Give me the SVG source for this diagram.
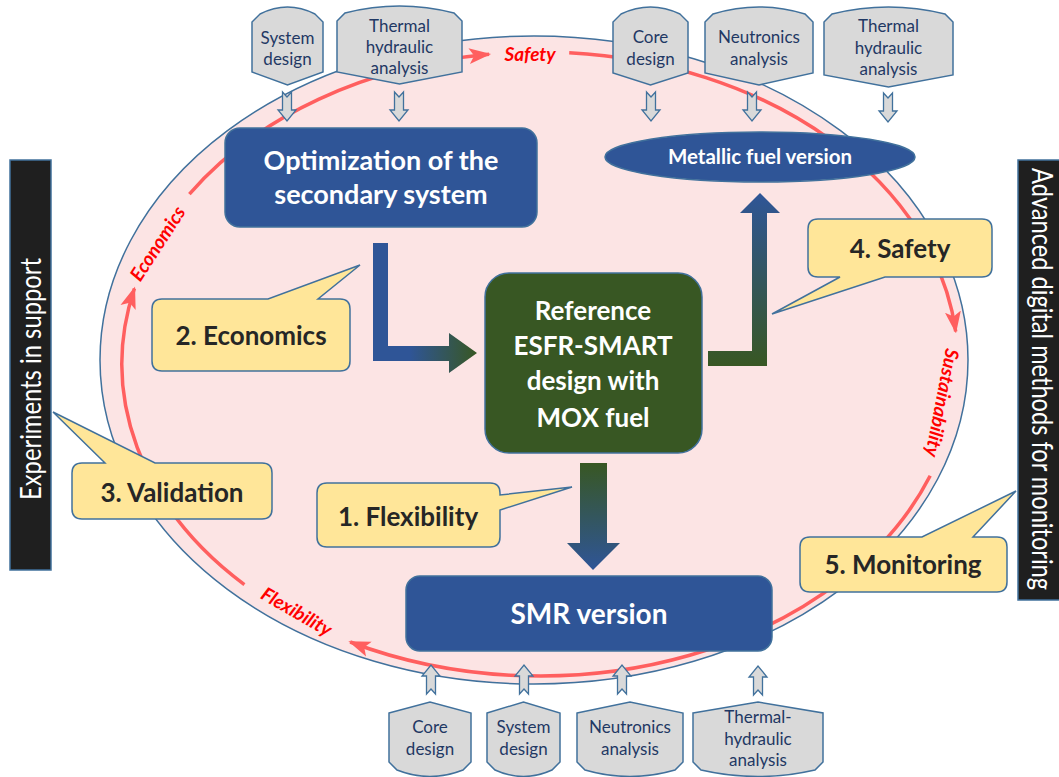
<svg xmlns="http://www.w3.org/2000/svg" width="1059" height="777" viewBox="0 0 1059 777">
<style>
.gray{fill:#d9d9d9;stroke:#41719c;stroke-width:1.5}
.gt{font-family:Lato,"Liberation Sans",sans-serif;font-size:17px;fill:#1f3864;text-anchor:middle}
.sa{fill:#d9d9d9;stroke:#41719c;stroke-width:1.3}
.call{fill:#ffe699;stroke:#41719c;stroke-width:1.5}
.ct{font-family:Lato,"Liberation Sans",sans-serif;font-size:26px;font-weight:bold;fill:#262626;text-anchor:middle}
.blue{fill:#2f5597;stroke:#41719c;stroke-width:1.5}
.wt{font-family:Lato,"Liberation Sans",sans-serif;font-weight:bold;fill:#ffffff;text-anchor:middle}
.red{fill:none;stroke:#ff5f5f;stroke-width:3.5;marker-end:url(#ah)}
.rl{font-family:Lato,"Liberation Sans",sans-serif;font-size:19px;font-weight:bold;font-style:italic;fill:#ff0000;text-anchor:middle;dominant-baseline:central}
.bar{fill:#1f1f1f;stroke:#41719c;stroke-width:1.5}
.bt{font-family:Lato,"Liberation Sans",sans-serif;font-size:28px;fill:#ffffff;text-anchor:middle}
</style>
<defs>
<marker id="ah" markerUnits="userSpaceOnUse" markerWidth="22" markerHeight="18" viewBox="0 0 22 18" refX="20" refY="9" orient="auto">
<path d="M0,1 L22,9 L0,17 L5,9 Z" fill="#ff5f5f"/>
</marker>
<linearGradient id="g1" gradientUnits="userSpaceOnUse" x1="373" y1="0" x2="477" y2="0">
<stop offset="0" stop-color="#2f5597"/><stop offset="0.35" stop-color="#2f5597"/><stop offset="1" stop-color="#385723"/>
</linearGradient>
<linearGradient id="g2" gradientUnits="userSpaceOnUse" x1="0" y1="366" x2="0" y2="193">
<stop offset="0" stop-color="#385723"/><stop offset="1" stop-color="#2f5597"/>
</linearGradient>
<linearGradient id="g3" gradientUnits="userSpaceOnUse" x1="0" y1="463" x2="0" y2="570">
<stop offset="0" stop-color="#385723"/><stop offset="1" stop-color="#2f5597"/>
</linearGradient>
</defs>

<g id="bar-left">
<rect class="bar" x="10" y="160" width="41" height="410"/>
<text class="bt" transform="translate(41,379) rotate(-90)" textLength="242" lengthAdjust="spacingAndGlyphs">Experiments in support</text>
</g>
<g id="bar-right">
<rect class="bar" x="1018" y="160" width="45" height="440"/>
<text class="bt" transform="translate(1032,379) rotate(90)" textLength="422" lengthAdjust="spacingAndGlyphs">Advanced digital methods for monitoring</text>
</g>

<g id="cycle">
<ellipse cx="534" cy="360" rx="434" ry="324" fill="#fce4e4" stroke="#41719c" stroke-width="1.5"/>
</g>

<g id="connectors">
<path class="red" d="M189.4,194.1 A418,312 0 0 1 489.1,54.3"/>
<path class="red" d="M569.2,52.7 A418,312 0 0 1 955.7,331.4"/>
<path class="red" d="M930.2,475.8 A418,312 0 0 1 350.2,642"/>
<path class="red" d="M244.4,584.6 A418,312 0 0 1 134.4,288.5"/>
<text class="rl" x="530" y="53">Safety</text>
<text class="rl" transform="translate(943,403) rotate(101)" font-size="20">Sustainability</text>
<text class="rl" transform="translate(297,611) rotate(30)">Flexibility</text>
<text class="rl" transform="translate(157,243) rotate(-57)">Economics</text>

<path fill="url(#g1)" d="M373,243 L388,243 L388,346 L449,346 L449,333 L477,353 L449,373 L449,361 L373,361 Z"/>
<path fill="url(#g2)" d="M708,351 L752,351 L752,213 L740,213 L760,193 L780,213 L767,213 L767,366 L708,366 Z"/>
<path fill="url(#g3)" d="M580,463 L607,463 L607,543 L620,543 L593,570 L567,543 L580,543 Z"/>

<path class="sa" d="M282.5,92 L287,97 L291.5,92 L291.5,110 L296,110 L287,121 L278,110 L282.5,110 Z"/>
<path class="sa" d="M394.5,92 L399,97 L403.5,92 L403.5,110 L408,110 L399,121 L390,110 L394.5,110 Z"/>
<path class="sa" d="M646.5,92 L651,97 L655.5,92 L655.5,110 L660,110 L651,121 L642,110 L646.5,110 Z"/>
<path class="sa" d="M747.5,92 L752,97 L756.5,92 L756.5,110 L761,110 L752,121 L743,110 L747.5,110 Z"/>
<path class="sa" d="M883.5,93 L888,98 L892.5,93 L892.5,111 L897,111 L888,122 L879,111 L883.5,111 Z"/>

<path class="sa" d="M426.5,694 L431,689 L435.5,694 L435.5,676 L440,676 L431,665 L422,676 L426.5,676 Z"/>
<path class="sa" d="M519.5,694 L524,689 L528.5,694 L528.5,676 L533,676 L524,665 L515,676 L519.5,676 Z"/>
<path class="sa" d="M617.5,694 L622,689 L626.5,694 L626.5,676 L631,676 L622,665 L613,676 L617.5,676 Z"/>
<path class="sa" d="M753.5,695 L758,690 L762.5,695 L762.5,677 L767,677 L758,666 L749,677 L753.5,677 Z"/>
</g>

<g id="n-economics">
<path class="call" d="M162,299 L268,299 L360,265 L318,299 L340,299 Q350,299 350,309 L350,361 Q350,371 340,371 L162,371 Q152,371 152,361 L152,309 Q152,299 162,299 Z"/>
<text class="ct" x="251" y="345">2. Economics</text>
</g>
<g id="n-validation">
<path class="call" d="M82,463 L105,463 L53,412 L155,463 L262,463 Q272,463 272,473 L272,509 Q272,519 262,519 L82,519 Q72,519 72,509 L72,473 Q72,463 82,463 Z"/>
<text class="ct" x="172" y="502">3. Validation</text>
</g>
<g id="n-flexibility">
<path class="call" d="M327,483 L490,483 Q500,483 500,493 L500,495 L572,487 L500,510 L500,537 Q500,547 490,547 L327,547 Q317,547 317,537 L317,493 Q317,483 327,483 Z"/>
<text class="ct" x="408" y="526">1. Flexibility</text>
</g>
<g id="n-safety">
<path class="call" d="M818,219 L982,219 Q992,219 992,229 L992,267 Q992,277 982,277 L885,277 L772,314 L840,277 L818,277 Q808,277 808,267 L808,229 Q808,219 818,219 Z"/>
<text class="ct" x="900" y="258">4. Safety</text>
</g>
<g id="n-monitoring">
<path class="call" d="M810,537 L922,537 L1016,491 L973,537 L997,537 Q1007,537 1007,547 L1007,582 Q1007,592 997,592 L810,592 Q800,592 800,582 L800,547 Q800,537 810,537 Z"/>
<text class="ct" x="903" y="574">5. Monitoring</text>
</g>

<g id="n-optimization">
<rect class="blue" x="225" y="128" width="312" height="99" rx="15"/>
<text class="wt" x="381" y="170" font-size="27">Optimization of the</text>
<text class="wt" x="381" y="204" font-size="27">secondary system</text>
</g>
<g id="n-reference">
<rect x="485" y="273" width="217" height="180" rx="24" fill="#385723" stroke="#41719c" stroke-width="1.5"/>
<text class="wt" x="593" y="320" font-size="26">Reference</text>
<text class="wt" x="593" y="355" font-size="26">ESFR-SMART</text>
<text class="wt" x="593" y="390" font-size="26">design with</text>
<text class="wt" x="593" y="427" font-size="26">MOX fuel</text>
</g>
<g id="n-metallic">
<ellipse class="blue" cx="760" cy="157" rx="155" ry="25"/>
<text class="wt" x="760" y="164" font-size="20.5">Metallic fuel version</text>
</g>
<g id="n-smr">
<rect class="blue" x="406" y="576" width="366" height="75" rx="14"/>
<text class="wt" x="589" y="624" font-size="28">SMR version</text>
</g>

<g id="in-system-top">
<path class="gray" d="M252,72 L252,22 L260,14 Q287.5,0 315,14 L323,22 L323,72 L287.5,85 Z"/>
<text class="gt" x="287.5" y="44">System</text><text class="gt" x="287.5" y="65">design</text>
</g>
<g id="in-thermal-top-left">
<path class="gray" d="M337,72 L337,21 L345,13 Q399.5,-1 454,13 L462,21 L462,72 L399.5,84 Z"/>
<text class="gt" x="399.5" y="32">Thermal</text><text class="gt" x="399.5" y="53">hydraulic</text><text class="gt" x="399.5" y="74">analysis</text>
</g>
<g id="in-core-top">
<path class="gray" d="M613,73 L613,22 L621,14 Q650.5,0 680,14 L688,22 L688,73 L650.5,85 Z"/>
<text class="gt" x="650.5" y="43">Core</text><text class="gt" x="650.5" y="65">design</text>
</g>
<g id="in-neutronics-top">
<path class="gray" d="M705,73 L705,22 L713,14 Q759,0 805,14 L813,22 L813,73 L759,85 Z"/>
<text class="gt" x="759" y="43">Neutronics</text><text class="gt" x="759" y="65">analysis</text>
</g>
<g id="in-thermal-top-right">
<path class="gray" d="M824,75 L824,22 L832,14 Q888.5,0 945,14 L953,22 L953,75 L888.5,87 Z"/>
<text class="gt" x="888.5" y="32">Thermal</text><text class="gt" x="888.5" y="54">hydraulic</text><text class="gt" x="888.5" y="75">analysis</text>
</g>

<g id="in-core-bottom">
<path class="gray" d="M389,713 L430,702 L471,713 L471,762 L463,770 Q430,783 397,770 L389,762 Z"/>
<text class="gt" x="430" y="733">Core</text><text class="gt" x="430" y="755">design</text>
</g>
<g id="in-system-bottom">
<path class="gray" d="M487,713 L523.5,702 L560,713 L560,762 L552,770 Q523.5,783 495,770 L487,762 Z"/>
<text class="gt" x="523.5" y="733">System</text><text class="gt" x="523.5" y="755">design</text>
</g>
<g id="in-neutronics-bottom">
<path class="gray" d="M577,713 L630,702 L683,713 L683,762 L675,770 Q630,783 585,770 L577,762 Z"/>
<text class="gt" x="630" y="733">Neutronics</text><text class="gt" x="630" y="755">analysis</text>
</g>
<g id="in-thermal-bottom">
<path class="gray" d="M693,713 L758,702 L823,713 L823,762 L815,770 Q758,783 701,770 L693,762 Z"/>
<text class="gt" x="758" y="723">Thermal-</text><text class="gt" x="758" y="745">hydraulic</text><text class="gt" x="758" y="766">analysis</text>
</g>
</svg>
